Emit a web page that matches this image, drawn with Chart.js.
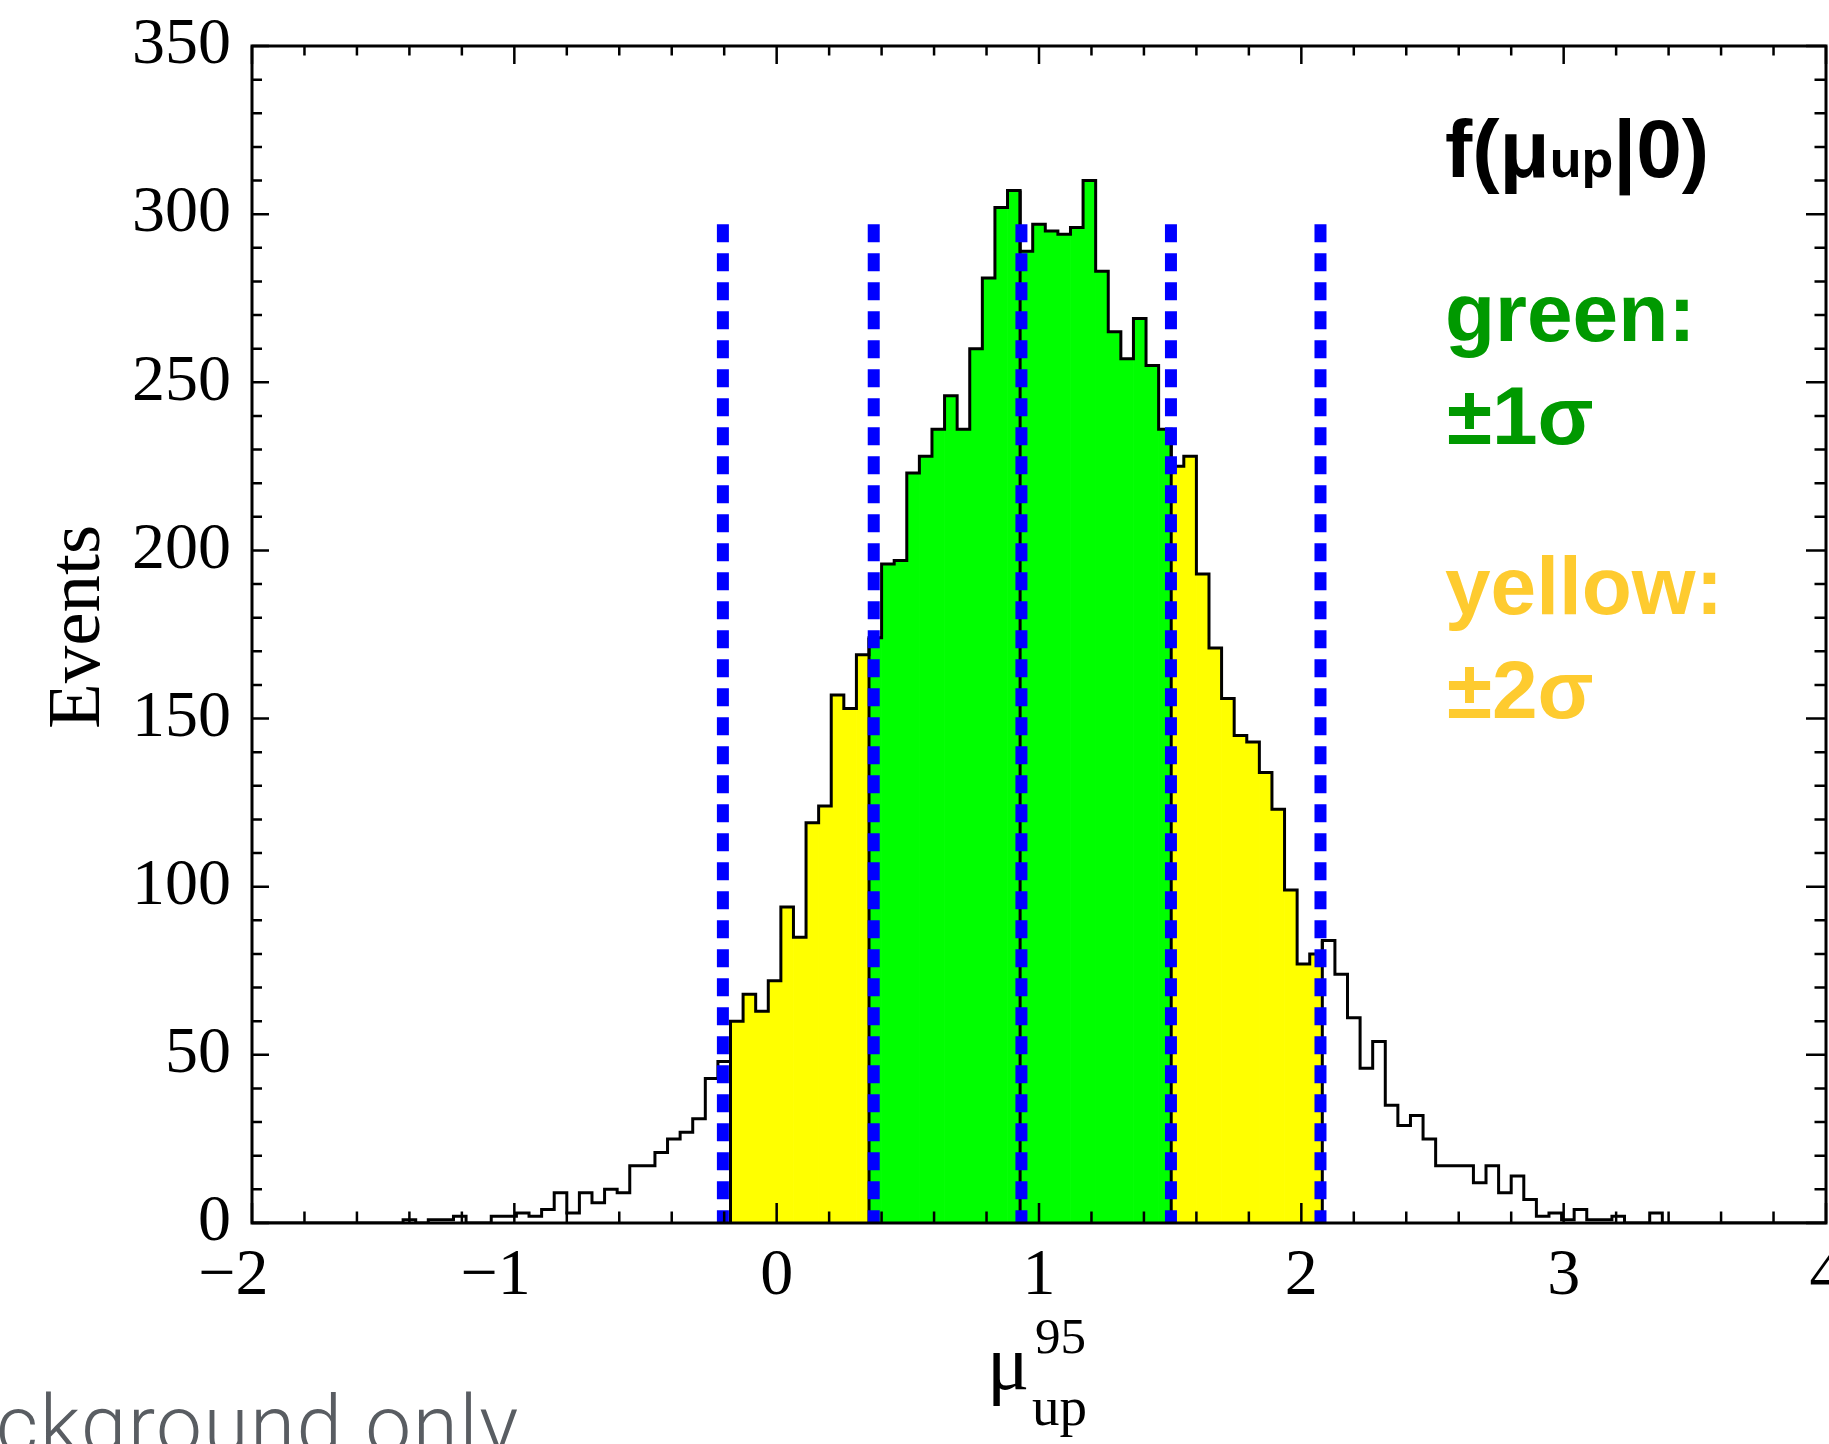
<!DOCTYPE html>
<html>
<head>
<meta charset="utf-8">
<title>mu_up distribution, background only</title>
<script src="https://cdn.jsdelivr.net/npm/chart.js@4.4.1/dist/chart.umd.min.js"></script>
<style>
  html, body { margin: 0; padding: 0; background: #fff; }
  #wrap { width: 1829px; height: 1444px; }
</style>
</head>
<body>
<div id="wrap"><canvas id="chart" width="1829" height="1444"></canvas></div>
<script>
// histogram of mu_up^95 from background-only toys: 125 bins on [-2, 4]
const histMin = -2;
const histMax = 4;
const binCounts = [
  0, 0, 0, 0, 0, 0, 0, 0, 0, 0, 0, 0,
  1, 0, 1, 1, 2, 0, 0, 2, 2, 3, 2, 4, 9, 3, 9, 6, 10, 9,
  17, 17, 21, 25, 27, 31, 43, 48, 60, 68, 63, 72, 94, 85, 119, 124, 157, 153, 169,
  174, 196, 197, 223, 228, 236, 246, 236, 260, 281, 302, 307,
  289, 297, 295, 294, 296, 310, 283, 265, 257, 269, 255, 236,
  225, 228, 193, 171, 156, 145, 143, 134, 123, 99, 77, 80,
  84, 74, 61, 46, 54, 35, 29, 32, 25, 17, 17, 17, 12, 17, 9, 14, 7,
  2, 3, 1, 4, 1, 1, 2, 0, 0, 3,
  0, 0, 0, 0, 0, 0, 0, 0, 0, 0, 0, 0, 0
];

// first bin of each coloured band; the last entry is the first unfilled bin
const bandStarts = [38, 49, 61, 73, 85];
const bandColors = ['#ffff00', '#00ff00', '#00ff00', '#ffff00'];

// -2 sigma, -1 sigma, median, +1 sigma, +2 sigma
const quantiles = [-0.205, 0.370, 0.933, 1.503, 2.073];
const quantileTop = 297;

const xTickValues = [-2, -1, 0, 1, 2, 3, 4];
const xTickLabels = ['\u22122', '\u22121', '0', '1', '2', '3', '4'];
const yTickValues = [0, 50, 100, 150, 200, 250, 300, 350];

const nBins = binCounts.length;
const binWidth = (histMax - histMin) / nBins;
const edge = k => histMin + k * binWidth;

// filled bins (bars centred on the bins)
const fillBars = [];
const fillColors = [];
for (let b = 0; b < bandColors.length; b++) {
  for (let k = bandStarts[b]; k < bandStarts[b + 1]; k++) {
    fillBars.push({x: edge(k) + binWidth / 2, y: binCounts[k]});
    fillColors.push(bandColors[b]);
  }
}

// step outline of the whole histogram
const outline = binCounts.map((c, k) => ({x: edge(k), y: c}));
outline.push({x: histMax, y: 0});

const boundaryLines = bandStarts.map(k => ({
  type: 'line',
  data: [{x: edge(k), y: 0}, {x: edge(k), y: Math.max(binCounts[k - 1], binCounts[k])}],
  borderColor: '#000',
  borderWidth: 3,
  pointRadius: 0,
  order: 2
}));

const quantileLines = quantiles.map(q => ({
  type: 'line',
  data: [{x: q, y: quantileTop}, {x: q, y: 0}],
  borderColor: '#0000ff',
  borderWidth: 12,
  borderDash: [18, 11],
  borderCapStyle: 'butt',
  pointRadius: 0,
  order: 1
}));

const serif = 'Liberation Serif, "Times New Roman", serif';
const sans = 'Liberation Sans, Arial, Helvetica, sans-serif';

function drawRuns(ctx, x, y, runs, color) {
  ctx.fillStyle = color;
  ctx.textAlign = 'left';
  ctx.textBaseline = 'alphabetic';
  for (const [txt, font, dy] of runs) {
    ctx.font = font;
    ctx.fillText(txt, x, y + (dy || 0));
    x += ctx.measureText(txt).width;
  }
}

const rootFrame = {
  id: 'rootFrame',
  afterDatasetsDraw(chart) {
    const {ctx, chartArea: a, scales: {x, y}} = chart;
    ctx.save();
    ctx.strokeStyle = '#000';
    ctx.lineWidth = 2.5;
    ctx.beginPath();
    // x ticks: minor every 0.2, major every 1
    for (let i = 0; i <= 30; i++) {
      const px = x.getPixelForValue(histMin + i * 0.2);
      const major = i % 5 === 0;
      ctx.moveTo(px, a.bottom);
      ctx.lineTo(px, a.bottom - (major ? 20 : 11.5));
      ctx.moveTo(px, a.top);
      ctx.lineTo(px, a.top + (major ? 18 : 9.5));
    }
    // y ticks: minor every 10, major every 50
    for (let v = 0; v <= 350; v += 10) {
      const py = y.getPixelForValue(v);
      const major = v % 50 === 0;
      ctx.moveTo(a.left, py);
      ctx.lineTo(a.left + (major ? 17 : 10), py);
      ctx.moveTo(a.right, py);
      ctx.lineTo(a.right - (major ? 20 : 11.5), py);
    }
    ctx.stroke();
    ctx.lineWidth = 3;
    ctx.strokeRect(a.left, a.top, a.right - a.left, a.bottom - a.top);

    // x tick labels: digit centred on the tick, minus sign hanging to the left
    ctx.fillStyle = '#000';
    ctx.font = '66px ' + serif;
    ctx.textAlign = 'left';
    ctx.textBaseline = 'alphabetic';
    xTickValues.forEach((v, i) => {
      const label = xTickLabels[i];
      const digits = label.replace('\u2212', '');
      const wd = ctx.measureText(digits).width;
      const wm = ctx.measureText(label).width - wd;
      ctx.fillText(label, x.getPixelForValue(v) - wd / 2 - wm, 1294);
    });
    ctx.restore();
  },
  afterDraw(chart) {
    const ctx = chart.ctx;
    ctx.save();
    // y axis title
    ctx.save();
    ctx.translate(99, 627);
    ctx.rotate(-Math.PI / 2);
    ctx.font = '75px ' + serif;
    ctx.fillStyle = '#000';
    ctx.textAlign = 'center';
    ctx.textBaseline = 'alphabetic';
    ctx.fillText('Events', 0, 0);
    ctx.restore();

    // x axis title: mu_up^95
    ctx.fillStyle = '#000';
    ctx.textAlign = 'left';
    ctx.font = '79px ' + serif;
    ctx.fillText('\u03bc', 987, 1389);
    ctx.font = '51px ' + serif;
    ctx.fillText('95', 1035, 1353);
    ctx.font = '55px ' + serif;
    ctx.fillText('up', 1032, 1425);

    // annotations on the right
    const big = 'bold 82px ' + sans;
    const small = 'bold 52px ' + sans;
    drawRuns(ctx, 1445, 177, [['f(\u03bc', big], ['up', small], ['|0)', big]], '#000');
    drawRuns(ctx, 1445, 341, [['green:', big]], '#009900');
    drawRuns(ctx, 1447, 444, [['\u00b11\u03c3', big]], '#009900');
    drawRuns(ctx, 1445, 614, [['yellow:', big]], '#fecb2f');
    drawRuns(ctx, 1447, 718, [['\u00b12\u03c3', big]], '#fecb2f');

    // slide text cut at the lower left
    ctx.font = '300 82px Roboto, "Open Sans", sans-serif';
    ctx.fillStyle = '#595d62';
    ctx.letterSpacing = '1.5px';
    ctx.fillText('ckground only', -4, 1453);
    ctx.restore();
  }
};

new Chart(document.getElementById('chart'), {
  type: 'bar',
  data: {
    datasets: [
      {
        type: 'bar',
        data: fillBars,
        backgroundColor: fillColors,
        borderWidth: 0,
        barPercentage: 1,
        categoryPercentage: 1,
        order: 3
      },
      {
        type: 'line',
        data: outline,
        stepped: 'before',
        borderColor: '#000',
        borderWidth: 3,
        pointRadius: 0,
        fill: false,
        order: 2
      },
      ...boundaryLines,
      ...quantileLines
    ]
  },
  options: {
    responsive: false,
    animation: false,
    devicePixelRatio: 1,
    layout: {padding: {top: 39, right: 3, left: 0, bottom: 0}},
    plugins: {legend: {display: false}, tooltip: {enabled: false}},
    scales: {
      x: {
        type: 'linear',
        min: histMin,
        max: histMax,
        offset: false,
        grid: {display: false},
        border: {display: false},
        ticks: {display: false},
        afterFit: s => { s.height = 221; }
      },
      y: {
        min: 0,
        max: 350,
        grid: {display: false},
        border: {display: false},
        afterBuildTicks: s => { s.ticks = yTickValues.map(v => ({value: v})); },
        ticks: {
          color: '#000',
          padding: 13,
          font: {family: serif, size: 66, lineHeight: 1},
          callback: v => String(v)
        },
        afterFit: s => { s.width = 252; }
      }
    }
  },
  plugins: [rootFrame]
});
</script>
</body>
</html>
